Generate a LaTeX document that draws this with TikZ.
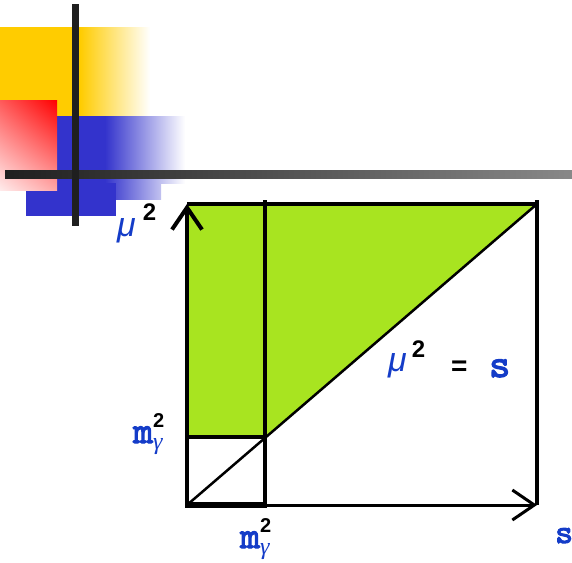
\documentclass[tikz,border=0pt]{standalone}
\usepackage{fontspec}
\setmainfont{Liberation Sans}
\newfontfamily\gamfont{Liberation Serif}
\newfontfamily\monofat{lmmono10-regular.otf}[FakeBold=3]
\usetikzlibrary{arrows.meta,shadings}

\definecolor{areagreen}{RGB}{168,228,32}
\definecolor{lblblue}{RGB}{20,60,200}
\definecolor{decyellow}{RGB}{255,204,0}
\definecolor{decblue}{RGB}{51,51,204}
\definecolor{bardark}{RGB}{31,31,31}
\definecolor{barlight}{RGB}{136,136,136}

% pieces of the labels
\newcommand{\much}{{\fontsize{34}{34}\selectfont\itshape μ}}
\newcommand{\musq}[1]{\raisebox{#1}{\fontsize{24}{24}\selectfont\bfseries\color{black}2}}
\newcommand{\sqnum}[1]{\raisebox{#1}{\fontsize{20}{20}\selectfont\bfseries\color{black}2}}
\newcommand{\mgam}{{\fontsize{38}{38}\selectfont\monofat m}%
  \rlap{\raisebox{-6pt}{\fontsize{24}{24}\selectfont\gamfont\itshape γ}}}

\begin{document}
\begin{tikzpicture}[x=1pt, y=-1pt,
  ax/.style={line width=4pt, -{Straight Barb[length=22pt,width=30pt]}},
  ln/.style={line width=4pt},
  lbl/.style={inner sep=0pt, anchor=base west, text=lblblue}
]
  \useasboundingbox (0,0) rectangle (572,562);

  % corner decoration
  \fill[decyellow] (0,27) rectangle (80,116);
  \shade[left color=decyellow, right color=white] (80,27) rectangle (150,116);
  \fill[decblue] (57,116) rectangle (105,183);
  \shade[left color=decblue, right color=white] (105,116) rectangle (185,183);
  \shade[left color=decblue!86!white, right color=decblue!30!white] (116,183) rectangle (161,199);
  \fill[decblue] (26,183) rectangle (116,216);
  \shade[upper right=red, upper left=red!65!white, lower right=red!35!white,
         lower left=red!8!white] (0,100) rectangle (57,190);
  \shade[left color=bardark, right color=barlight] (5,170) rectangle (572,178);
  \fill[bardark] (72,4) rectangle (79,226);

  \coordinate (O)    at (187,505);
  \coordinate (Ymax) at (187,204);
  \coordinate (Xmax) at (537,505);
  \coordinate (TR)   at (537,204);
  \coordinate (Mx)   at (265,505);
  \coordinate (My)   at (187,437);
  \coordinate (Mc)   at (265,437);

  \fill[areagreen] (Ymax) -- (TR) -- (Mc) -- (My) -- cycle;

  \draw[ln] (Ymax) -- (TR);
  \draw[ln] (537,200) -- (TR) -- (Xmax);
  \draw[ln] (265,200) -- (Mc) -- (Mx);
  \draw[ln] (My) -- (Mc);
  \draw[line width=2.5pt] (O) -- (TR);
  \draw[ax] (O) -- (Ymax);
  \draw[ax, line width=3pt] (O) -- (Xmax);
  \draw[line width=6pt] ([xshift=-2pt]O) -- ([xshift=2pt]Mx);

  \node[lbl] (mulab)  at (117,236) {\much\hspace{7pt}\musq{16pt}};
  \node[lbl] (eqmu)   at (388,371) {\much\hspace{5pt}\musq{14pt}};
  \node[lbl, text=black, font=\fontsize{28}{28}\selectfont\bfseries] (eqsign) at (451,375) {=};
  \node[lbl, font=\fontsize{40}{40}\selectfont\monofat] (eqs) at (489,377) {s};
  \node[lbl] (mylab)  at (133,443) {\mgam\sqnum{16pt}};
  \node[lbl] (mxlab)  at (240,548) {\mgam\sqnum{16pt}};
  \node[lbl, font=\fontsize{34}{34}\selectfont\monofat] (slab) at (555,543) {s};
\end{tikzpicture}
\end{document}
